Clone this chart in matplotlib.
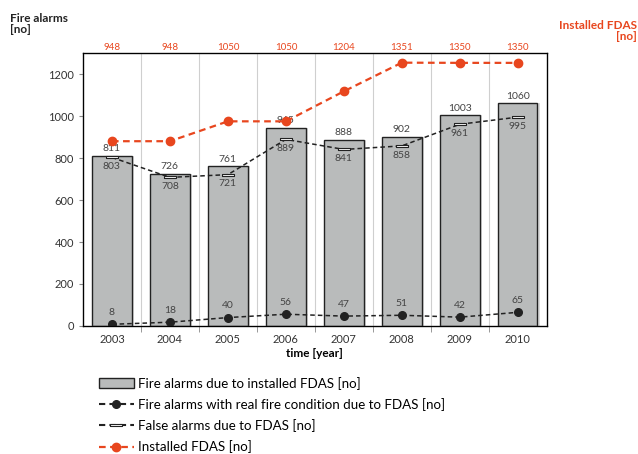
import matplotlib
matplotlib.use("Agg")
import matplotlib.pyplot as plt
from matplotlib.lines import Line2D
from matplotlib.patches import Patch
import numpy as np

plt.rcParams["font.family"] = ["Lato", "DejaVu Sans"]

years = ["2003", "2004", "2005", "2006", "2007", "2008", "2009", "2010"]
alarms_total = [811, 726, 761, 945, 888, 902, 1003, 1060]
alarms_real = [8, 18, 40, 56, 47, 51, 42, 65]
alarms_false = [803, 708, 721, 889, 841, 858, 961, 995]
installed_fdas = [948, 948, 1050, 1050, 1204, 1351, 1350, 1350]

RED = "#e8461e"
BAR = "#b9bbbb"
LBL = "#444444"
DASH = (0, (3, 2))

# thin hollow bar used as the marker for false alarms
flat_marker = [(-3, -0.7), (3, -0.7), (3, 0.7), (-3, 0.7), (-3, -0.7)]

fig = plt.figure(figsize=(6.38, 4.54), dpi=100)
ax = fig.add_axes([0.130, 0.282, 0.727, 0.601])
x = np.arange(len(years))

# light shadow to the right of each bar, then the bar itself
ax.bar(x + 0.04, alarms_total, width=0.68, color="#dcdcdc", zorder=1)
ax.bar(x, alarms_total, width=0.68, color=BAR, edgecolor="#222222",
       linewidth=1.0, zorder=2)

ax.plot(x, alarms_false, linestyle=DASH, color="#222222", lw=1.1,
        marker=flat_marker, markersize=9, markerfacecolor="white",
        markeredgecolor="#222222", markeredgewidth=0.8, zorder=4)
ax.plot(x, alarms_real, linestyle=DASH, color="#222222", lw=1.1,
        marker="o", markersize=5.5, zorder=4)

for xi, tot, fa, rf in zip(x, alarms_total, alarms_false, alarms_real):
    ax.text(xi, tot + 12, str(tot), ha="center", va="bottom",
            fontsize=7.5, color=LBL)
    ax.text(xi, fa - 22, str(fa), ha="center", va="top",
            fontsize=7.5, color=LBL)
    ax.text(xi, rf + 35, str(rf), ha="center", va="bottom",
            fontsize=7.5, color=LBL)

ax.set_xlim(-0.5, len(years) - 0.5)
ax.set_ylim(0, 1300)
ax.set_yticks(range(0, 1201, 200))
ax.set_xticks(x)
ax.set_xticklabels(years)
ax.set_xticks(x[:-1] + 0.5, minor=True)
for b in x[:-1] + 0.5:
    ax.axvline(b, color="#cfcfcf", lw=0.8, zorder=0)
ax.tick_params(axis="x", which="major", length=0, pad=6, labelsize=8,
               labelcolor="#333333")
ax.tick_params(axis="x", which="minor", length=4, color="#888888")
ax.tick_params(axis="y", length=3, labelsize=8, labelcolor="#333333",
               color="#888888")
for s in ax.spines.values():
    s.set_color("#555555")
    s.set_linewidth(1.0)

# installed FDAS on its own hidden scale
ax2 = ax.twinx()
ax2.set_ylim(0, 1400)
ax2.plot(x, installed_fdas, linestyle=DASH, color=RED, lw=1.6,
         marker="o", markersize=6, zorder=5)
ax2.set_yticks([])
for xi, v in zip(x, installed_fdas):
    ax.text(xi, 1.005, str(v), transform=ax.get_xaxis_transform(),
            ha="center", va="bottom", fontsize=7, color=RED)

ax.set_xlabel("time [year]", fontsize=8.5, fontweight="bold", labelpad=2)
fig.text(0.016, 0.972, "Fire alarms\n[no]", ha="left", va="top",
         fontsize=8.5, fontweight="bold", color="#222222", linespacing=1.0)
fig.text(0.998, 0.955, "Installed FDAS\n[no]", ha="right", va="top",
         fontsize=8.5, fontweight="bold", color=RED, linespacing=1.0,
         multialignment="right")

handles = [
    Patch(facecolor=BAR, edgecolor="#222222"),
    Line2D([], [], linestyle=DASH, color="#222222", marker="o",
           markersize=5.5),
    Line2D([], [], linestyle=DASH, color="#222222",
           marker=flat_marker, markersize=9, markerfacecolor="white",
           markeredgecolor="#222222", markeredgewidth=0.8),
    Line2D([], [], linestyle=DASH, color=RED, lw=1.6, marker="o",
           markersize=6),
]
labels = [
    "Fire alarms due to installed FDAS [no]",
    "Fire alarms with real fire condition due to FDAS [no]",
    "False alarms due to FDAS [no]",
    "Installed FDAS [no]",
]
fig.legend(handles, labels, loc="upper left", bbox_to_anchor=(0.155, 0.170),
           frameon=False, fontsize=9.6, handlelength=2.6, handletextpad=0.3,
           labelspacing=0.62, borderpad=0, borderaxespad=0)

fig.savefig("out.png", dpi=100)
